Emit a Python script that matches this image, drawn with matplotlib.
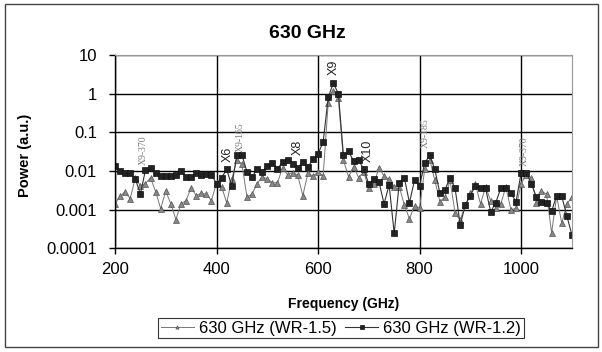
import numpy as np
import matplotlib.pyplot as plt
from matplotlib.patches import Rectangle
from matplotlib.ticker import FixedLocator, FixedFormatter, NullLocator

plt.rcParams['font.family'] = ['Liberation Sans', 'DejaVu Sans']

freq = np.arange(200, 1101, 10)

# WR-1.5 (triangles)
wr15 = [0.0014, 0.0022, 0.0029, 0.0019, 0.0066, 0.0041, 0.0047, 0.0067, 0.0029, 0.00106,
        0.0030, 0.0014, 0.00055, 0.0014, 0.0017, 0.0037, 0.0023, 0.0026, 0.0025, 0.0017,
        0.0049, 0.0039, 0.0015, 0.0060, 0.019, 0.015, 0.0021, 0.0025, 0.0047, 0.0070,
        0.0062, 0.0049, 0.0049, 0.012, 0.0079, 0.0090, 0.0077, 0.0023, 0.0086, 0.0073,
        0.0094, 0.0073, 0.57, 1.2, 0.75, 0.019, 0.0070, 0.0127, 0.0067, 0.0094,
        0.0035, 0.0047, 0.012, 0.0073, 0.0060, 0.0039, 0.0039, 0.0013, 0.00058, 0.00125,
        0.0011, 0.011, 0.0195, 0.0057, 0.0016, 0.0021, 0.0057, 0.0008, 0.00053, 0.0013,
        0.0026, 0.0045, 0.0014, 0.0039, 0.0017, 0.0011, 0.0014, 0.0039, 0.00096, 0.0011,
        0.0047, 0.0077, 0.0067, 0.0015, 0.0030, 0.0025, 0.00025, 0.0022, 0.00044, 0.0014,
        0.0021]

# WR-1.2 (squares)
wr12 = [0.013, 0.0098, 0.0086, 0.0086, 0.0063, 0.0025, 0.0104, 0.012, 0.0090, 0.0075,
        0.0075, 0.0075, 0.0080, 0.0098, 0.0070, 0.0070, 0.0090, 0.0080, 0.0082, 0.0080,
        0.0047, 0.0066, 0.011, 0.0041, 0.026, 0.026, 0.0094, 0.0070, 0.011, 0.0094,
        0.0137, 0.016, 0.0115, 0.0165, 0.019, 0.0155, 0.012, 0.017, 0.0125, 0.020,
        0.028, 0.055, 0.80, 1.85, 1.0, 0.025, 0.032, 0.018, 0.019, 0.011,
        0.0045, 0.0063, 0.0052, 0.0014, 0.0043, 0.00024, 0.0049, 0.0066, 0.0015, 0.0057,
        0.0041, 0.016, 0.025, 0.011, 0.0026, 0.0032, 0.0067, 0.0035, 0.0004, 0.0013,
        0.0023, 0.0041, 0.0037, 0.0035, 0.00087, 0.0015, 0.0036, 0.0035, 0.0026, 0.0016,
        0.0089, 0.0089, 0.0047, 0.0021, 0.0016, 0.0015, 0.0009, 0.0023, 0.0022, 0.00069,
        0.00022]

# big labels (sans) and small labels (serif, grey)
big_labels = ['X6', 'X8', 'X9', 'X10']
big_x = [423, 560, 630, 698]
big_y = [0.017, 0.025, 3.0, 0.017]
small_labels = ['X9-370', 'X9-165', 'X9-185', 'X9-370']
small_x = [256, 446, 812, 1006]
small_y = [0.014, 0.03, 0.04, 0.013]

yticks = [0.0001, 0.001, 0.01, 0.1, 1, 10]
ytick_labels = ['0.0001', '0.001', '0.01', '0.1', '1', '10']
xticks = [200, 400, 600, 800, 1000]

fig = plt.figure(figsize=(6.02, 3.52), dpi=100)
ax = fig.add_axes([0.191, 0.295, 0.759, 0.549])

ax.plot(freq, wr15, color='#777777', lw=0.7, marker='^', ms=3.8,
        mfc='#888888', mec='#555555', mew=0.5, label='630 GHz (WR-1.5)')
ax.plot(freq, wr12, color='#333333', lw=0.8, marker='s', ms=3.8,
        mfc='#222222', mec='#111111', mew=0.5, label='630 GHz (WR-1.2)')

ax.set_yscale('log')
ax.set_ylim(0.0001, 10)
ax.set_xlim(200, 1100)
ax.yaxis.set_major_locator(FixedLocator(yticks))
ax.yaxis.set_major_formatter(FixedFormatter(ytick_labels))
ax.yaxis.set_minor_locator(NullLocator())
ax.set_xticks(xticks)
ax.tick_params(labelsize=12, length=4, width=1.0, direction='out', color='black')
ax.tick_params(axis='y', pad=9)
ax.tick_params(axis='x', pad=6)
ax.grid(True, color='black', lw=1.0)
for s in ax.spines.values():
    s.set_color('#999999')
    s.set_linewidth(0.8)
ax.spines['left'].set_color('black')
ax.spines['left'].set_linewidth(1.0)
ax.spines['bottom'].set_color('black')
ax.spines['bottom'].set_linewidth(1.0)

for t, x, y in zip(big_labels, big_x, big_y):
    ax.text(x, y, t, rotation=90, ha='center', va='bottom', fontsize=9, color='#222222')
for t, x, y in zip(small_labels, small_x, small_y):
    ax.text(x, y, t, rotation=90, ha='center', va='bottom', fontsize=7,
            color='#777777', family='Liberation Serif')

fig.text(0.51, 0.906, '630 GHz', ha='center', va='center', fontsize=14, fontweight='bold')
fig.text(0.57, 1 - 304 / 352, 'Frequency (GHz)', ha='center', va='center',
         fontsize=10, fontweight='bold')
fig.text(0.042, 0.56, 'Power (a.u.)', ha='center', va='center', rotation=90,
         fontsize=10.5, fontweight='bold')

leg = fig.legend(loc='center', bbox_to_anchor=(341 / 602, 1 - 328 / 352), ncol=2,
                 fontsize=12, frameon=True, fancybox=False, handlelength=2.0,
                 handletextpad=0.3, columnspacing=0.5, borderpad=0.15, markerscale=0.6)
leg.get_frame().set_edgecolor('black')
leg.get_frame().set_linewidth(0.8)

fig.patches.append(Rectangle((0.008, 0.015), 0.986, 0.975, transform=fig.transFigure,
                             fill=False, edgecolor='#444444', lw=1.0))

fig.savefig('out.png', dpi=100)
